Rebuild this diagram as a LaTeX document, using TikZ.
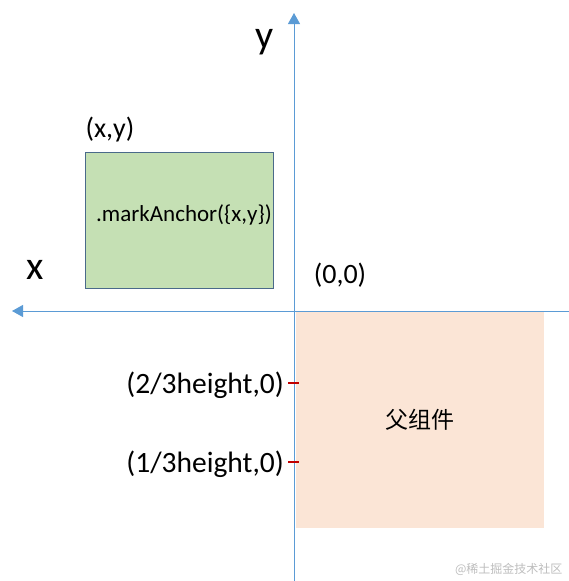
\documentclass[tikz,border=0pt]{standalone}
\usepackage{fontspec}
\setmainfont{Carlito}
\newfontfamily\cjkfont{Noto Sans CJK SC}
\usepackage{tikz}
\usetikzlibrary{arrows.meta,positioning}
\definecolor{axisblue}{HTML}{5B9BD5}
\definecolor{anchorgreen}{HTML}{C5E0B4}
\definecolor{anchorline}{HTML}{4A6A8A}
\definecolor{parentpeach}{HTML}{FBE5D6}
\definecolor{tickred}{HTML}{C00000}
\definecolor{markgrey}{HTML}{BDBDBD}

\begin{document}
\begin{tikzpicture}[
  x=1pt,y=-1pt,
  axis/.style={draw=axisblue,line width=1pt,-{Triangle[length=11pt,width=12pt]}},
  lbl/.style={font=\fontsize{28}{30}\selectfont,inner sep=0pt},
  tick/.style={draw=tickred,line width=2.6pt},
  area/.style={anchor=north west,inner sep=0pt}]
\useasboundingbox (0,0) rectangle (569,581);
% boxes
\node[area,fill=parentpeach,minimum width=248pt,minimum height=217pt] (parent) at (296,311) {};
\node[font=\cjkfont\fontsize{23}{25}\selectfont] at (parent.center) {父组件};
\node[area,fill=anchorgreen,draw=anchorline,line width=0.8pt,minimum width=188pt,minimum height=136pt] (child) at (85,152) {};
\node[font=\fontsize{23}{25}\selectfont,inner sep=0pt,anchor=west] at (96,215) {.markAnchor(\{x,y\})};
% axes
\coordinate (ybot) at (294,581);
\coordinate (ytop) at (294,13);
\coordinate (xright) at (569,311);
\coordinate (xleft) at (12,311);
\draw[axis] (ybot) -- (ytop);
\draw[axis] (xright) -- (xleft);
\node[font=\fontsize{40}{42}\selectfont] (ylbl) at (265,42) {y};
\node[font=\fontsize{40}{42}\selectfont] (xlbl) at (35,270) {x};
\node[lbl] (xy) at (110,130) {(x,y)};
\node[lbl] (origin) at (340,275) {(0,0)};
% ticks
\coordinate (t2a) at (288,383);
\coordinate (t2b) at (299,383);
\coordinate (t1a) at (288,462);
\coordinate (t1b) at (299,462);
\draw[tick] (t2a) -- (t2b);
\draw[tick] (t1a) -- (t1b);
\node[lbl,font=\fontsize{29.5}{31}\selectfont,anchor=east] (two) at (284,385) {(2/3height,0)};
\node[lbl,font=\fontsize{29.5}{31}\selectfont,anchor=east] (one) at (284,464) {(1/3height,0)};
\node[font=\cjkfont\fontsize{12}{14}\selectfont,text=markgrey,anchor=east] (mark) at (566,569) {@稀土掘金技术社区};
\end{tikzpicture}
\end{document}
